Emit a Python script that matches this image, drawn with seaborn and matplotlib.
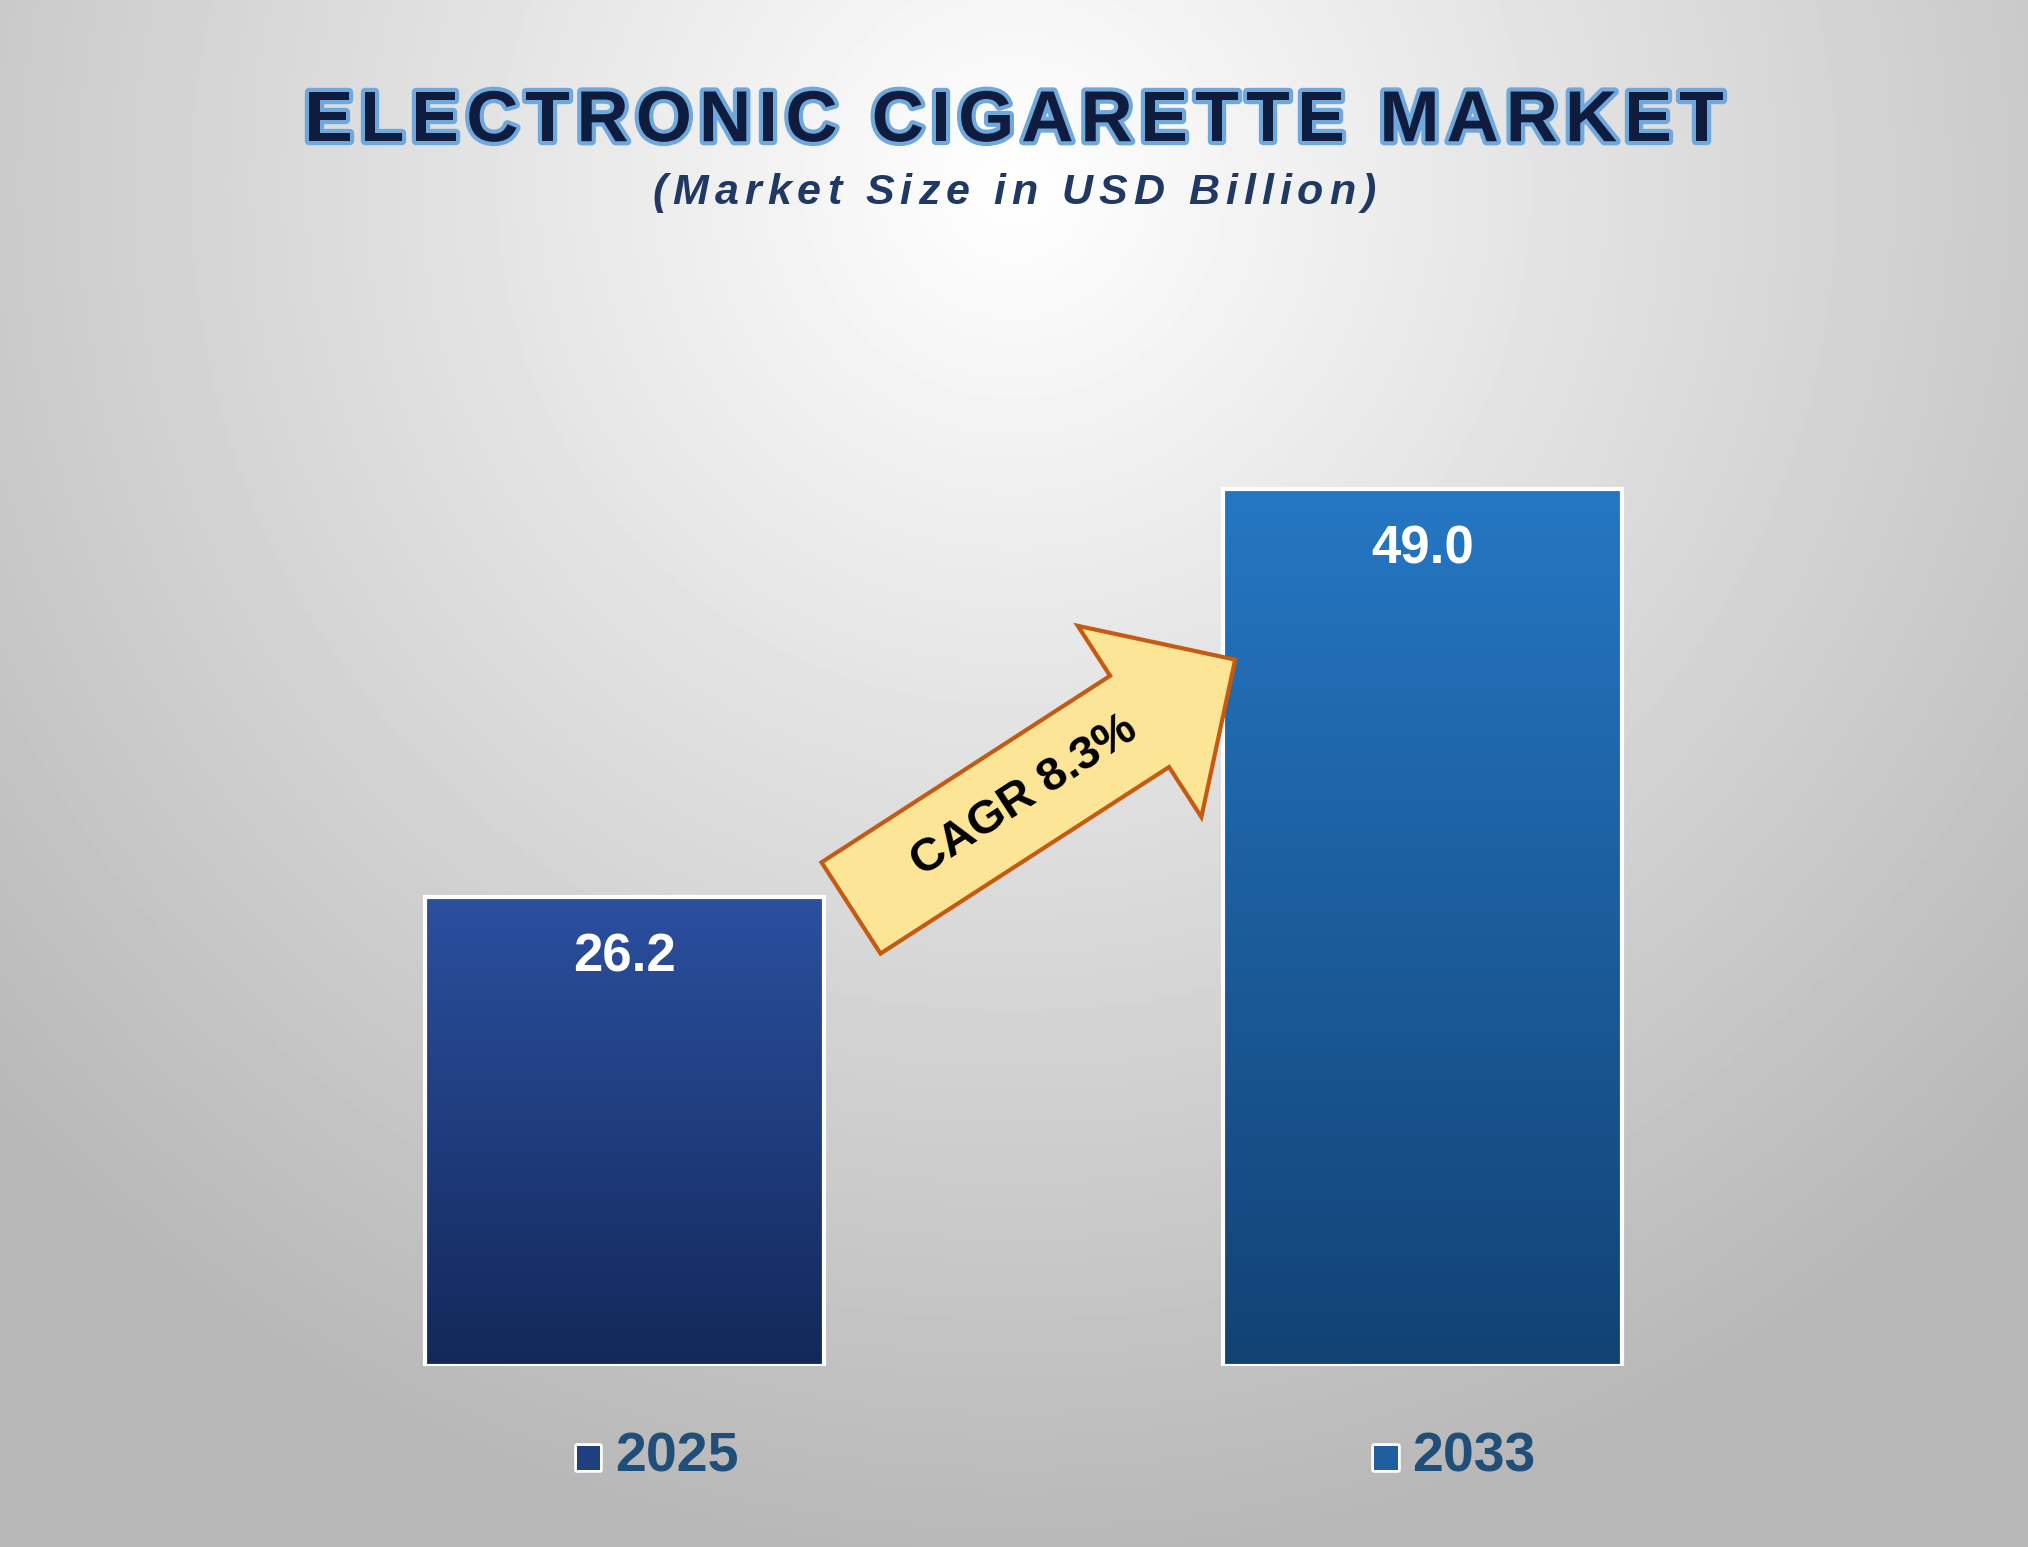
import numpy as np
import pandas as pd
import matplotlib
matplotlib.use("Agg")
import matplotlib.pyplot as plt
import matplotlib.patheffects as pe
from matplotlib.patches import Polygon
import seaborn as sns

# === Data ===
years = ["2025", "2033"]
market_size = [26.2, 49.0]
cagr_label = "CAGR 8.3%"
bar_top_colors = ["#2b50a0", "#2577c4"]
bar_bottom_colors = ["#13285a", "#124274"]
legend_colors = ["#1f3f80", "#1f5f9f"]

sns.set_theme(style="white")
plt.rcParams["font.family"] = ["Liberation Sans", "DejaVu Sans"]

W, H, DPI = 2028, 1547, 100
fig = plt.figure(figsize=(W / DPI, H / DPI), dpi=DPI)
renderer = fig.canvas.get_renderer()


def spaced_text(y, s, spacing, **kw):
    """Draw text with extra letter spacing, centred on the figure."""
    widths = []
    for ch in s:
        t = fig.text(0, 0, ch, **kw)
        widths.append(t.get_window_extent(renderer).width if ch != " " else None)
        t.remove()
    sp = fig.text(0, 0, "a a", **kw)
    sp2 = fig.text(0, 0, "aa", **kw)
    space_w = sp.get_window_extent(renderer).width - sp2.get_window_extent(renderer).width
    sp.remove(); sp2.remove()
    widths = [w if w is not None else space_w for w in widths]
    total = sum(widths) + spacing * (len(s) - 1)
    x = (W - total) / 2
    for ch, w in zip(s, widths):
        if ch != " ":
            fig.text(x / W, y, ch, ha="left", va="center", **kw)
        x += w + spacing


# === Background: soft radial gradient ===
bg = fig.add_axes([0, 0, 1, 1])
yy, xx = np.mgrid[0:1:400j, 0:1:520j]
r = np.sqrt(((xx - 0.5) / 0.8) ** 2 + ((yy - 0.12) / 1.05) ** 2)
shade = np.clip(1.0 - 0.33 * r, 0.72, 1.0)
bg.imshow(shade, cmap="gray", vmin=0, vmax=1, extent=[0, 1, 1, 0], aspect="auto")
bg.set_axis_off()

# === Bars ===
ax = fig.add_axes([0.05, 0.117, 0.90, 0.72])
df = pd.DataFrame({"year": years, "size": market_size})
sns.barplot(data=df, x="year", y="size", ax=ax, width=0.5, color="#1f4e8c",
            edgecolor="white", linewidth=3, zorder=3)
ax.set_xlim(-0.656, 1.632)
ax.set_ylim(0, 62.2)
ax.set_axis_off()
ax.patch.set_alpha(0)

for i, bar in enumerate(ax.patches):
    x0, y0 = bar.get_x(), bar.get_y()
    w, h = bar.get_width(), bar.get_height()
    cmap = matplotlib.colors.LinearSegmentedColormap.from_list(
        "g", [bar_bottom_colors[i], bar_top_colors[i]])
    grad = np.linspace(0, 1, 256).reshape(-1, 1)
    im = ax.imshow(grad, cmap=cmap, extent=[x0, x0 + w, y0, y0 + h],
                   origin="lower", aspect="auto", zorder=3.5)
    im.set_clip_path(bar)
    bar.set_facecolor("none")
    bar.set_zorder(4)
    ax.text(x0 + w / 2, y0 + h - 2.0, f"{market_size[i]:.1f}", ha="center", va="top",
            color="white", fontsize=38, fontweight="bold", zorder=5)

# === CAGR arrow (in figure pixel space) ===
s = W / 1568
tail = np.array([658, 702]) * s
tip = np.array([955, 510]) * s
d = tip - tail
L = np.hypot(*d)
u = d / L
n = np.array([-u[1], u[0]])
shaft_half, head_half, head_len = 42 * s, 88 * s, 88 * s
base = tip - u * head_len
pts = [tail + n * shaft_half, base + n * shaft_half, base + n * head_half, tip,
       base - n * head_half, base - n * shaft_half, tail - n * shaft_half]
pts = [(p[0] / W, 1 - p[1] / H) for p in pts]
fig.patches.append(Polygon(pts, closed=True, transform=fig.transFigure,
                           facecolor="#fde598", edgecolor="#c55a11", linewidth=3, zorder=6))
mid = tail + u * (L - head_len) * 0.6
fig.text(mid[0] / W, 1 - mid[1] / H, cagr_label, rotation=33, ha="center", va="center",
         fontsize=34, fontweight="bold", color="black", rotation_mode="anchor", zorder=7)

# === Bottom legend-like labels ===
for i, yr in enumerate(years):
    cx = ax.patches[i].get_x() + ax.patches[i].get_width() / 2
    fx = ax.transData.transform((cx, 0))[0] / W
    fig.text(fx - 0.018, 0.058, "■", fontsize=22, color=legend_colors[i],
             ha="center", va="center", family=["DejaVu Sans"],
             path_effects=[pe.withStroke(linewidth=4, foreground="white")])
    fig.text(fx + 0.0255, 0.058, yr, fontsize=40, fontweight="bold", color="#1f4e79",
             ha="center", va="center")

# === Titles ===
spaced_text(0.921, "ELECTRONIC CIGARETTE MARKET", 7, fontsize=52, fontweight="bold",
            color="#0f1c3d", path_effects=[pe.withStroke(linewidth=6, foreground="#6fa8dc")])
spaced_text(0.875, "(Market Size in USD Billion)", 6, fontsize=31, fontweight="bold",
            style="italic", color="#1f3864")

fig.savefig("out.png", dpi=DPI)
